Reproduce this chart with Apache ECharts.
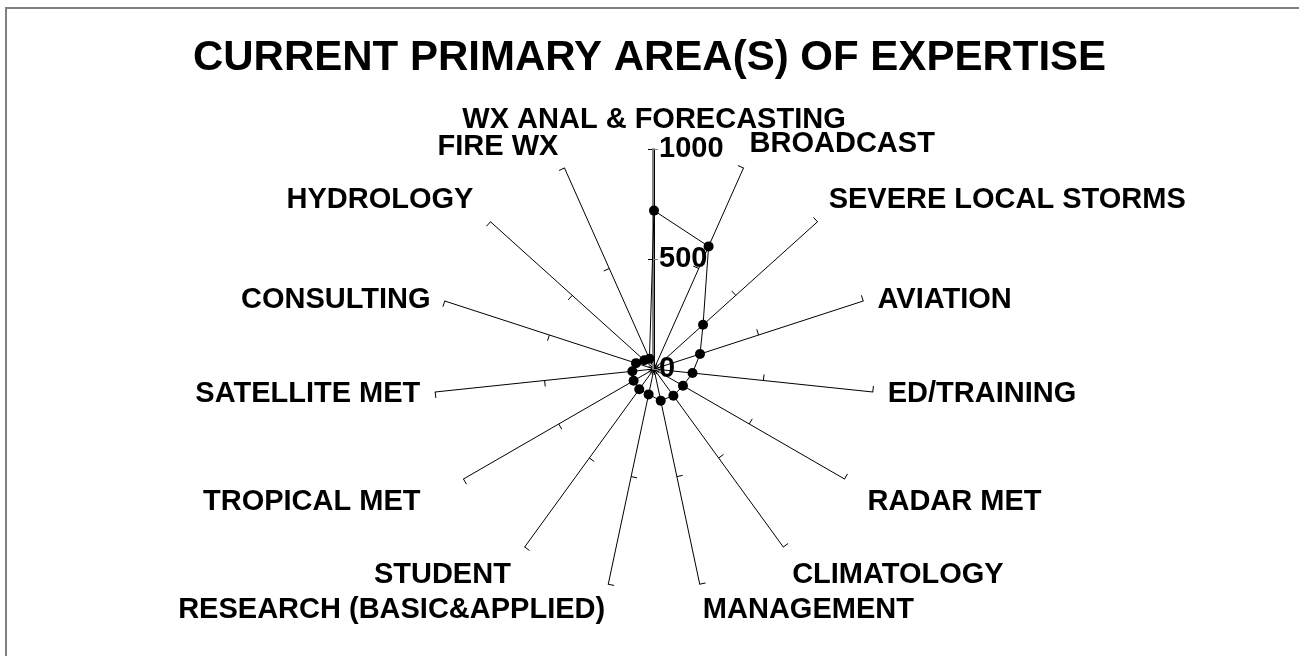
<!DOCTYPE html>
<html>
<head>
<meta charset="utf-8">
<script src="https://cdn.jsdelivr.net/npm/echarts@6/dist/echarts.min.js"></script>
<style>
  html, body { margin: 0; padding: 0; background: #fff; }
  #chart { width: 1299px; height: 656px; }
  #frame {
    position: absolute; left: 5px; top: 7px; right: 0; bottom: 0;
    border-top: 2px solid #808080; border-left: 2px solid #808080;
    pointer-events: none;
  }
</style>
</head>
<body>
<div id="chart"></div>
<div id="frame"></div>
<script>
// clockwise from the top
const categories = [
  'WX ANAL & FORECASTING', 'BROADCAST', 'SEVERE LOCAL STORMS', 'AVIATION',
  'ED/TRAINING', 'RADAR MET', 'CLIMATOLOGY', 'MANAGEMENT',
  'RESEARCH (BASIC&APPLIED)', 'STUDENT', 'TROPICAL MET', 'SATELLITE MET',
  'CONSULTING', 'HYDROLOGY', 'FIRE WX'
];
const counts = [720, 610, 300, 220, 176, 152, 150, 147, 118, 114, 107, 99, 86, 59, 51];
const scaleMax = 1000;
const scaleStep = 500;

const font = 'Liberation Sans, Arial, sans-serif';

// echarts lays radar indicators out counter-clockwise, so flip the tail
const order = [0].concat(categories.map((c, i) => i).slice(1).reverse());

// nudge some names the way the original placed them (padding: top right bottom left)
const namePad = {
  'BROADCAST': [0, 0, 20, 0],
  'SEVERE LOCAL STORMS': [0, 0, 24, 0],
  'AVIATION': [8, 0, 0, 0],
  'RADAR MET': [30, 0, 0, 10],
  'CLIMATOLOGY': [32, 0, 0, 0],
  'MANAGEMENT': [22, 0, 0, 0],
  'RESEARCH (BASIC&APPLIED)': [22, 0, 0, 0],
  'STUDENT': [32, 5, 0, 0],
  'TROPICAL MET': [30, 30, 0, 0],
  'CONSULTING': [8, 0, 0, 0],
  'HYDROLOGY': [0, 6, 24, 0],
  'FIRE WX': [0, 0, 14, 0]
};
const nameStyle = { color: '#000', fontFamily: font, fontSize: 29, fontWeight: 'bold' };
let rich = {};
categories.forEach((c, i) => {
  rich['n' + i] = Object.assign({}, nameStyle, { padding: namePad[c] || [0, 0, 0, 0] });
});

let myChart = echarts.init(document.getElementById('chart'));

let option = {
  animation: false,
  title: {
    text: 'CURRENT PRIMARY AREA(S) OF EXPERTISE',
    left: 'center',
    top: 32,
    textStyle: { fontFamily: font, fontSize: 42, fontWeight: 'bold', color: '#000' }
  },
  radar: {
    center: [654, 369],
    radius: 220,
    startAngle: 90,
    splitNumber: 2,
    indicator: order.map(i => ({ name: categories[i], min: 0, max: scaleMax })),
    axisName: Object.assign({}, nameStyle, {
      formatter: name => '{n' + categories.indexOf(name) + '|' + name + '}',
      rich: rich
    }),
    nameGap: 15,
    axisLine: { lineStyle: { color: '#000', width: 1 } },
    axisTick: { show: true, length: 6, lineStyle: { color: '#000', width: 1 } },
    splitLine: { show: false },
    splitArea: { show: false }
  },
  // labelled value scale on the top spoke
  grid: { left: 653, top: 149, width: 1, height: 220 },
  xAxis: { type: 'value', show: false },
  yAxis: {
    type: 'value',
    position: 'right',
    min: 0,
    max: scaleMax,
    interval: scaleStep,
    z: 10,
    axisLine: { show: true, lineStyle: { color: '#808080', width: 2 } },
    axisTick: { show: true, length: 5, lineStyle: { color: '#808080', width: 1 } },
    axisLabel: {
      margin: 5, color: '#000', fontFamily: font, fontSize: 29, fontWeight: 'bold',
      formatter: v => String(v)
    },
    splitLine: { show: false }
  },
  series: [
    {
      name: 'Expertise',
      type: 'radar',
      z: 20,
      symbol: 'circle',
      symbolSize: 10,
      itemStyle: { color: '#000' },
      lineStyle: { color: '#000', width: 1 },
      data: [{ value: order.map(i => counts[i]) }]
    }
  ]
};

myChart.setOption(option);
</script>
</body>
</html>
